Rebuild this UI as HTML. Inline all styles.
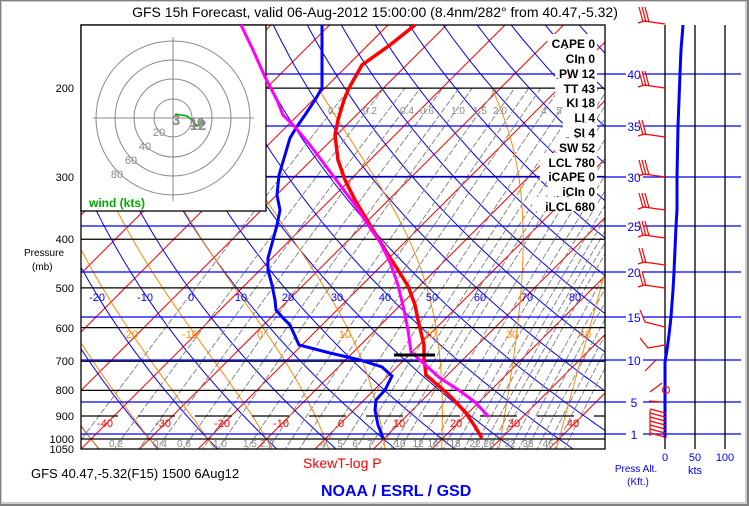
<!DOCTYPE html>
<html><head><meta charset="utf-8"><style>
html,body{margin:0;padding:0;background:#fff}
svg{display:block}
text{font-family:"Liberation Sans",sans-serif}
</style></head><body>
<svg id="s" width="749" height="506" xmlns="http://www.w3.org/2000/svg">
<rect x="0" y="0" width="749" height="506" fill="#808080"/>
<rect x="1" y="1" width="746" height="503" fill="#ccc"/>
<rect x="2" y="2" width="743" height="500" fill="#fff"/>
<defs><clipPath id="pc"><rect x="81" y="25" width="524" height="424"/></clipPath></defs>
<g id="grid" clip-path="url(#pc)"></g>
<g id="over"></g>
</svg>
<script>
const NS="http://www.w3.org/2000/svg";
const S=document.getElementById('s'),G=document.getElementById('grid'),O=document.getElementById('over');
function el(p,n,a,t){const e=document.createElementNS(NS,n);for(const k in a)e.setAttribute(k,a[k]);if(t!==undefined)e.textContent=t;p.appendChild(e);return e;}
const Y=p=>439-218*Math.log(1000/p);
const X=(T,p)=>325+5.85*T+(439-Y(p));
function poly(p,pts,st,w,extra){const a={points:pts.map(q=>q[0].toFixed(1)+','+q[1].toFixed(1)).join(' '),fill:'none',stroke:st,'stroke-width':w};Object.assign(a,extra||{});return el(p,'polyline',a);}
const ps=[];for(let p=1060;p>=140;p-=10)ps.push(p);
// isotherms
for(let T=-140;T<=60;T+=10){poly(G,[[X(T,1060),Y(1060)],[X(T,140),Y(140)]],'#f00',1);}
// dry adiabats
for(let th=-60;th<=200;th+=10){const K=th+273.15;poly(G,ps.map(p=>[X(K*Math.pow(p/1000,0.286)-273.15,p),Y(p)]),'#00f',1);}
// mixing ratio
const es=T=>6.112*Math.exp(17.67*T/(T+243.5));
const ws=[0.1,0.2,0.3,0.4,0.6,0.8,1,1.5,2,2.5,3,4,5,6,7,8,9,10,12,14,16,18,20,22,24,26,28,32,35,38,42,46,50,55];
for(const w of ws){const pts=[];for(let p=1060;p>=200;p-=10){const e=w*p/(622+w);const l=Math.log(e/6.112);const T=243.5*l/(17.67-l);pts.push([X(T,p),Y(p)]);}poly(G,pts,'#888',1,{'stroke-dasharray':'6,2'});}
// moist adiabats
for(let tw=-40;tw<=50;tw+=10){let T=tw+273.15,p=1000;const up=[],dn=[];
 const f=(T,p)=>{const e=es(T-273.15),rs=0.622*e/(p-e),L=2.5e6;return (287*T+L*rs)/(p*(1004+L*L*rs*0.622/(287*T*T)));};
 for(;p>=200;p-=2){up.push([X(T-273.15,p),Y(p)]);T-=f(T,p)*2;}
 T=tw+273.15;for(p=1000;p<=1060;p+=2){dn.push([X(T-273.15,p),Y(p)]);T+=f(T,p)*2;}
 poly(G,dn.reverse().concat(up),'#f80',1);}
// pressure lines
const pl=[200,300,400,500,600,700,800,1000];
for(const p of pl){el(G,'line',{x1:81,x2:605,y1:Y(p),y2:Y(p),stroke:'#000','stroke-width':1.3});}
el(G,'line',{x1:81,x2:605,y1:416,y2:416,stroke:'#000','stroke-width':1.3,'stroke-dasharray':'37,20'});
// altitude lines
const alt=[[40,74],[35,126],[30,177],[25,226],[20,272],[15,317],[10,360],[5,402],[1,434]];
for(const [a,y] of alt){el(O,'line',{x1:81,x2:626,y1:y,y2:y,stroke:'#00f','stroke-width':1.2});el(O,'line',{x1:643,x2:741,y1:y,y2:y,stroke:'#00f','stroke-width':1.2});
 el(O,'text',{x:634,y:y+5,'font-size':12,fill:'#00f','text-anchor':'middle'},a);}
// labels in plot
function t(x,y,s,c,fs,anc,extra){const a={x:x,y:y,'font-size':fs||11,fill:c,'text-anchor':anc||'middle'};Object.assign(a,extra||{});return el(O,'text',a,s);}
[[-20,97],[-10,145],[0,191],[10,241],[20,288],[30,337],[40,385],[50,432],[60,480],[70,527],[80,575]].forEach(q=>t(q[1],301,q[0],'#00f',11));
[[-20,130],[-10,190],[0,260],[10,345],[20,430],[30,512],[40,585]].forEach(q=>t(q[1],338,q[0],'#f80',11));
[[-40,105],[-30,163],[-20,222],[-10,281],[0,341],[10,399],[20,456],[30,514],[40,573]].forEach(q=>t(q[1],427,q[0],'#f00',11));
[['0.2',116],['0.4',160],['0.6',184],['1.0',220],['1.5',250],['2.0',267],['4',323],['5',340],['6',355],['7',370],['10',400],['12',418],['14',433],['18',455],['22',475],['26',489],['32',510],['38',528],['46',548]].forEach(q=>t(q[1],447,q[0],'#888',10));
[['0.1',335],['0.2',370],['0.4',407],['0.6',427],['1.0',458],['1.5',480],['2.0',500],['4',544],['5',559]].forEach(q=>t(q[1],114,q[0],'#888',10));
// plot frame
el(O,'rect',{x:81,y:25,width:524,height:424,fill:'none',stroke:'#000','stroke-width':1.3});
// hodograph
el(O,'rect',{x:81,y:25,width:185,height:186,fill:'#fff',stroke:'#000','stroke-width':1.3});
for(const r of [19,39,58,77])el(O,'circle',{cx:173,cy:118,r:r,fill:'none',stroke:'#888','stroke-width':1});
el(O,'line',{x1:93,x2:254,y1:118,y2:118,stroke:'#888'});el(O,'line',{x1:173,x2:173,y1:37,y2:201,stroke:'#888'});
[['20',159,136],['40',145,150],['60',131,164],['80',117,178]].forEach(q=>t(q[1],q[2],q[0],'#888',11));
poly(O,[[175,114],[187,116],[193,121],[197,126],[202,123]],'#0a0',1.5);
t(176,125,'3','#888',15,'middle',{'font-weight':'bold'});t(198,130,'12','#888',15,'middle',{'font-weight':'bold'});
t(197,127,'10','#888',13,'middle',{'font-weight':'bold'});
t(89,207,'wind (kts)','#0a0',12,'start',{'font-weight':'bold'});
// data
poly(O,[[415,25],[390,45],[362,65],[349,88],[344,100],[338,120],[335,135],[338,160],[345,180],[355,200],[370,225],[387,253],[398,270],[408,286],[415,305],[418,320],[424,345],[424,358],[426,375],[440,387],[452,398],[466,413],[474,425],[482,438]],'#f00',3.5);
poly(O,[[322,25],[322,58],[322,88],[315,100],[305,115],[296,128],[290,138],[285,155],[279,175],[277,195],[280,210],[277,225],[273,240],[268,258],[268,270],[272,285],[275,300],[276,310],[283,318],[290,325],[299,345],[330,353],[360,360],[382,367],[392,376],[385,390],[376,400],[375,410],[378,425],[383,438]],'#00f',3);
poly(O,[[241,25],[253,50],[265,77],[277,100],[283,115],[295,127],[310,145],[325,165],[340,185],[355,205],[368,225],[380,242],[390,262],[398,285],[404,310],[408,330],[411,352],[422,362],[440,378],[460,391],[475,402],[489,417]],'#f0f',3);
el(O,'line',{x1:394,x2:435,y1:355,y2:355,stroke:'#000','stroke-width':3});
// stats
const st=[['CAPE 0',44],['CIn 0',59],['PW 12',74],['TT 43',89],['KI 18',103],['LI 4',118],['SI 4',133],['SW 52',148],['LCL 780',163],['iCAPE 0',177],['iCIn 0',192],['iLCL 680',207]];
for(const [s,y] of st){const w=s.length*7.6;el(O,'rect',{x:595-w-2,y:y-10,width:w+4,height:14,fill:'#fff'});t(595,y+4,s,'#000',12,'end',{'font-weight':'bold'});}
// pressure labels
[[200,88],[300,177],[400,239],[500,288],[600,328],[700,361],[800,390],[900,416],[1000,439],[1050,449]].forEach(q=>t(74,q[1]+4,q[0],'#000',11,'end'));
t(24,256,'Pressure','#000',10,'start');t(32,270,'(mb)','#000',10,'start');
// right panel
for(const x of [665,695,725])el(O,'line',{x1:x,x2:x,y1:25,y2:449,stroke:'#000','stroke-width':1.3});
poly(O,[[683,25],[681,50],[680,74],[678,126],[677,177],[677,210],[676,226],[674,272],[673,290],[671,317],[669,335],[667,350],[665,362],[665,438]],'#00f',3);
function barb(y,n){const x0=665,x1=638;el(O,'polyline',{points:`${x0},${y} ${x1+6},${y-3} ${x1},${y-1}`,fill:'none',stroke:'#f00','stroke-width':1.2});
 for(let i=0;i<n;i++){const bx=x1+2+i*3;el(O,'line',{x1:bx+3,y1:y-2,x2:bx-1,y2:y-17,stroke:'#f00','stroke-width':1.2});}}
barb(24,3);barb(88,3);barb(137,2);barb(177,3);barb(210,3);barb(238,3);barb(265,2);barb(288,2);
el(O,'polyline',{points:'665,327 645,322 640,310',fill:'none',stroke:'#f00','stroke-width':1.2});
el(O,'polyline',{points:'665,345 648,348 640,338',fill:'none',stroke:'#f00','stroke-width':1.2});
el(O,'polyline',{points:'656,360 645,371',fill:'none',stroke:'#f00','stroke-width':1.2});
el(O,'polyline',{points:'662,383 650,392',fill:'none',stroke:'#f00','stroke-width':1.2});
el(O,'circle',{cx:666,cy:390,r:3.5,fill:'none',stroke:'#f00'});
el(O,'line',{x1:649,x2:662,y1:401,y2:402,stroke:'#f00','stroke-width':1.2});
for(let y=413;y<=437;y+=4)el(O,'line',{x1:650,x2:665,y1:y-4,y2:y,stroke:'#f00','stroke-width':1.2});
el(O,'line',{x1:650,x2:650,y1:410,y2:436,stroke:'#f00','stroke-width':1.2});
t(665,461,'0','#00f',11);t(695,461,'50','#00f',11);t(725,461,'100','#00f',11);t(695,474,'kts','#00f',11);
t(636,472,'Press Alt.','#00f',10);t(638,485,'(Kft.)','#00f',10);
// titles
t(375,17,'GFS 15h Forecast, valid 06-Aug-2012 15:00:00 (8.4nm/282° from 40.47,-5.32)','#000',14);
t(31,478,'GFS 40.47,-5.32(F15) 1500 6Aug12','#000',13,'start');
t(303,468,'SkewT-log P','#f00',14,'start');
t(321,496,'NOAA / ESRL / GSD','#00f',16,'start',{'font-weight':'bold'});
</script>
</body></html>
